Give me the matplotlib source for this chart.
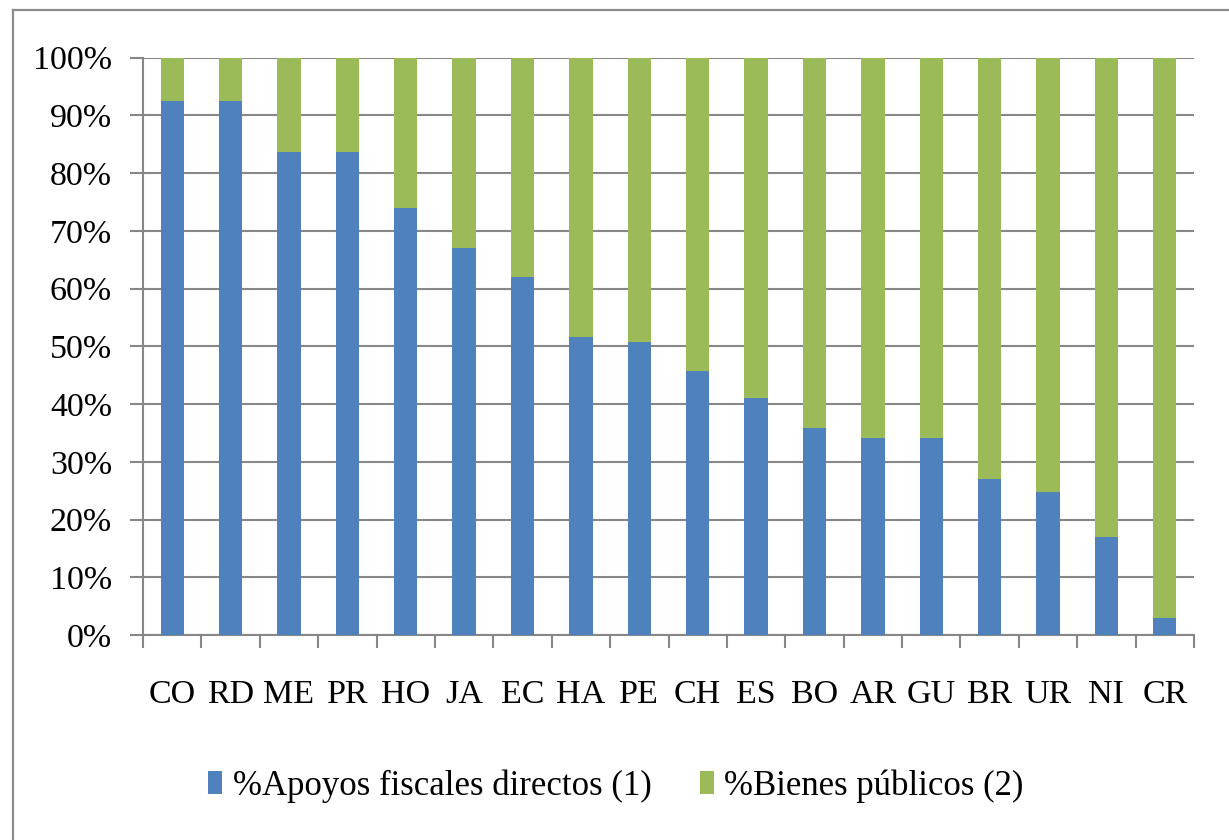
import matplotlib
matplotlib.use("Agg")
import matplotlib.pyplot as plt
from matplotlib.lines import Line2D
import numpy as np

categories = ["CO", "RD", "ME", "PR", "HO", "JA", "EC", "HA", "PE", "CH",
              "ES", "BO", "AR", "GU", "BR", "UR", "NI", "CR"]
apoyos = [92.5, 92.5, 83.7, 83.7, 74.0, 67.0, 62.0, 51.7, 50.7, 45.7,
          41.0, 35.9, 34.1, 34.1, 27.1, 24.8, 16.9, 3.0]
bienes = [100 - v for v in apoyos]
series_names = ["%Apoyos fiscales directos (1)", "%Bienes públicos (2)"]
ytick_vals = list(range(0, 101, 10))
ytick_labels = [f"{v}%" for v in ytick_vals]

plt.rcParams['font.family'] = ['Liberation Serif', 'DejaVu Serif']

W, H = 1229, 840
fig = plt.figure(figsize=(W / 100, H / 100), dpi=100)
ax = fig.add_axes([143 / W, 1 - 635 / H, (1194 - 143) / W, (635 - 57.7) / H])

blue = "#4F81BD"
green = "#9BBB59"
grid = "#878787"

x = np.arange(len(categories))
ax.bar(x, apoyos, width=0.4, color=blue, label=series_names[0], zorder=3)
ax.bar(x, bienes, width=0.4, bottom=apoyos, color=green, label=series_names[1], zorder=3)

ax.set_xlim(-0.5, len(categories) - 0.5)
ax.set_ylim(0, 100)
ax.set_axisbelow(True)
ax.yaxis.grid(True, color=grid, linewidth=1.5)
ax.set_yticks(ytick_vals)
ax.set_yticklabels(ytick_labels, fontsize=24.5)
ax.set_xticks(x)
ax.set_xticklabels(categories, fontsize=24.5)
ax.set_xticks(np.arange(-0.5, len(categories), 1.0), minor=True)

ax.tick_params(axis='y', length=9.4, width=1.5, color=grid, pad=13)
ax.tick_params(axis='x', which='major', length=0, pad=32)
ax.tick_params(axis='x', which='minor', length=9.4, width=1.5, color=grid)

for s in ['top', 'right']:
    ax.spines[s].set_visible(False)
for s in ['left', 'bottom']:
    ax.spines[s].set_color(grid)
    ax.spines[s].set_linewidth(1.5)

fig.legend(loc='center', bbox_to_anchor=(616 / W, 1 - 786 / H), ncol=2,
           frameon=False, fontsize=25, handlelength=0.4, handleheight=0.63,
           handletextpad=0.3, columnspacing=1.4)

# outer chart border (left and top)
bc = "#8c8c8c"
fig.add_artist(Line2D([13 / W, 13 / W], [0, 1 - 10 / H], color=bc, linewidth=1.6,
                      transform=fig.transFigure))
fig.add_artist(Line2D([13 / W, 1], [1 - 10 / H, 1 - 10 / H], color=bc, linewidth=1.6,
                      transform=fig.transFigure))

fig.savefig("out.png", dpi=100)
